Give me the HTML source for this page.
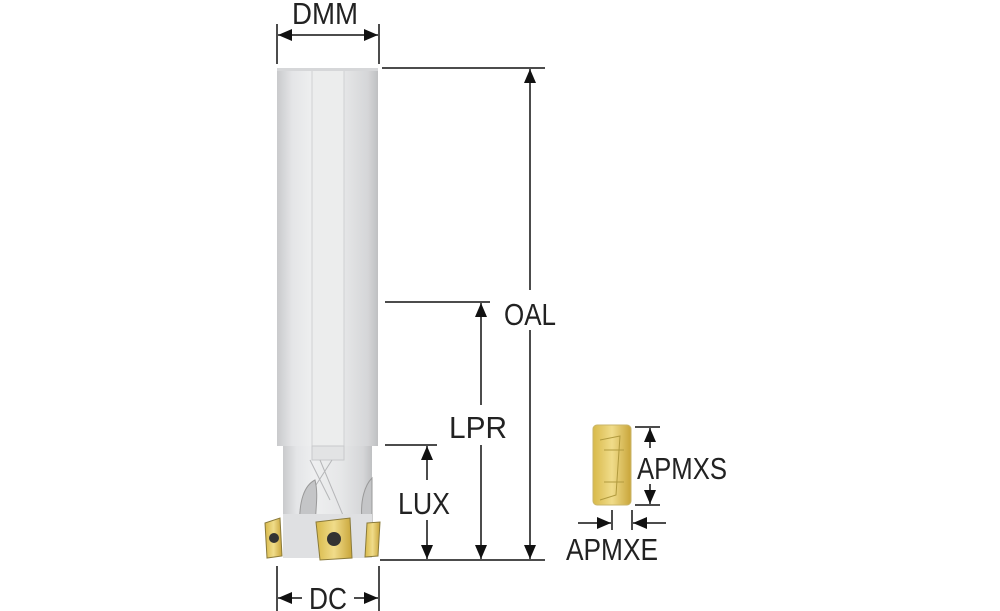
<!DOCTYPE html>
<html><head><meta charset="utf-8"><style>body{margin:0;background:#fff}svg{display:block}text{font-family:"Liberation Sans",sans-serif;fill:#222}</style></head><body>
<svg width="1000" height="611" viewBox="0 0 1000 611" xmlns="http://www.w3.org/2000/svg">
<defs>
<linearGradient id="sh" x1="0" x2="1"><stop offset="0" stop-color="#c9cacc"/><stop offset="0.15" stop-color="#e4e5e7"/><stop offset="0.35" stop-color="#eeeff0"/><stop offset="0.65" stop-color="#e6e7e8"/><stop offset="0.9" stop-color="#d5d6d8"/><stop offset="1" stop-color="#bfc0c2"/></linearGradient>
<linearGradient id="gd" x1="0" x2="1"><stop offset="0" stop-color="#d8b94a"/><stop offset="0.5" stop-color="#f0dc8a"/><stop offset="1" stop-color="#c9a53a"/></linearGradient>
<marker id="a" viewBox="0 0 10 10" refX="10" refY="5" markerWidth="14" markerHeight="12" orient="auto-start-reverse" markerUnits="userSpaceOnUse" preserveAspectRatio="none"><path d="M0,0 L10,5 L0,10z" fill="#111"/></marker>
</defs>
<rect x="277" y="68" width="101" height="378" fill="url(#sh)"/>
<rect x="312" y="70" width="32" height="376" fill="#eceded" stroke="#d0d1d3" stroke-width="1"/>
<rect x="277" y="68" width="101" height="3" fill="#d6d7d9"/>
<rect x="283" y="446" width="89" height="68" fill="url(#sh)"/>
<rect x="312" y="446" width="32" height="14" fill="#e2e3e4" stroke="#c8c9cb"/>
<path d="M320,460 L345,520 M332,460 L300,510 M310,460 L330,500" stroke="#b5b6b8" fill="none"/>
<path d="M300,530 C298,500 305,485 315,480 C320,500 312,520 318,530z" fill="#c4c5c7" stroke="#999"/>
<path d="M362,520 C360,500 365,485 372,478 L372,525z" fill="#c4c5c7" stroke="#999"/>
<rect x="283" y="514" width="89" height="44" fill="#dfe0e2"/>
<path d="M265,523 L280,518 L282,556 L267,558z" fill="url(#gd)" stroke="#8a7a3a"/>
<circle cx="274" cy="538" r="5" fill="#333"/>
<path d="M316,522 L350,518 L352,558 L320,560z" fill="url(#gd)" stroke="#8a7a3a"/>
<circle cx="334" cy="539" r="7" fill="#333"/>
<path d="M367,523 L380,522 L378,556 L365,557z" fill="url(#gd)" stroke="#8a7a3a"/>
<rect x="593" y="425" width="38" height="80" rx="4" fill="url(#gd)" stroke="#c9b66a"/>
<path d="M604,450 L624,450 M604,482 L624,482 M600,440 L620,436 L616,495 L600,500" stroke="#b19a3e" fill="none"/>
<g stroke="#111" stroke-width="1.5" fill="none">
<line x1="277" y1="24" x2="277" y2="64"/><line x1="379" y1="24" x2="379" y2="64"/>
<line x1="278" y1="35" x2="378" y2="35" marker-start="url(#a)" marker-end="url(#a)"/>
<line x1="382" y1="68" x2="545" y2="68"/>
<line x1="530" y1="69" x2="530" y2="559" marker-start="url(#a)" marker-end="url(#a)"/>
<line x1="380" y1="560" x2="545" y2="560"/>
<line x1="385" y1="302" x2="490" y2="302"/>
<line x1="481" y1="303" x2="481" y2="559" marker-start="url(#a)" marker-end="url(#a)"/>
<line x1="385" y1="445" x2="437" y2="445"/>
<line x1="427" y1="446" x2="427" y2="559" marker-start="url(#a)" marker-end="url(#a)"/>
<line x1="277" y1="566" x2="277" y2="611"/><line x1="379" y1="566" x2="379" y2="611"/>
<line x1="278" y1="598" x2="378" y2="598" marker-start="url(#a)" marker-end="url(#a)"/>
<line x1="635" y1="427" x2="660" y2="427"/><line x1="635" y1="505" x2="660" y2="505"/>
<line x1="650" y1="428" x2="650" y2="504" marker-start="url(#a)" marker-end="url(#a)"/>
<line x1="612" y1="510" x2="612" y2="530"/><line x1="632" y1="510" x2="632" y2="530"/>
<line x1="578" y1="523" x2="611" y2="523" marker-end="url(#a)"/>
<line x1="666" y1="523" x2="633" y2="523" marker-end="url(#a)"/>
</g>
<rect x="500" y="290" width="58" height="40" fill="#fff"/>
<rect x="445" y="405" width="66" height="40" fill="#fff"/>
<rect x="395" y="480" width="62" height="40" fill="#fff"/>
<rect x="632" y="448" width="30" height="36" fill="#fff"/>
<rect x="302" y="582" width="52" height="29" fill="#fff"/>
<g font-size="31">
<text x="292" y="24" textLength="66" lengthAdjust="spacingAndGlyphs">DMM</text>
<text x="504" y="325" textLength="52" lengthAdjust="spacingAndGlyphs">OAL</text>
<text x="449" y="438" textLength="58" lengthAdjust="spacingAndGlyphs">LPR</text>
<text x="398" y="514" textLength="52" lengthAdjust="spacingAndGlyphs">LUX</text>
<text x="309" y="609" textLength="38" lengthAdjust="spacingAndGlyphs">DC</text>
<text x="637" y="479" textLength="90" lengthAdjust="spacingAndGlyphs">APMXS</text>
<text x="566" y="560" textLength="92" lengthAdjust="spacingAndGlyphs">APMXE</text>
</g>
</svg>
</body></html>
